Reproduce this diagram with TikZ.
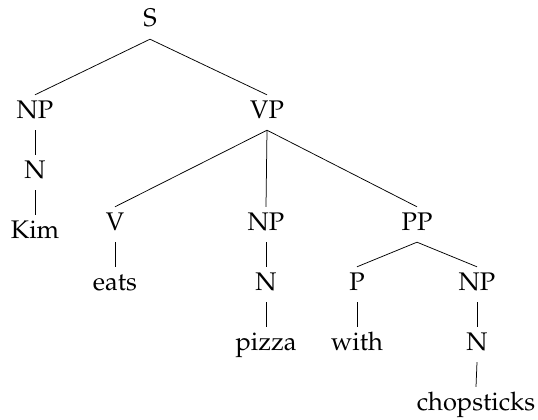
\documentclass[tikz,border=0pt]{standalone}
\usepackage[T1]{fontenc}
\usepackage{mathpazo}
\begin{document}
\begin{tikzpicture}[x=1pt,y=-1pt,
  lab/.style={anchor=base,font=\fontsize{25.5}{30}\selectfont,inner xsep=2pt,inner ysep=6pt,text height=17pt,text depth=6pt},
  br/.style={draw=black,line width=0.75pt}]
\useasboundingbox (0,0) rectangle (538,420);
\node[lab] (S) at (150,27) {S};
\node[lab] (NP1) at (35,118) {NP};
\node[lab] (N1) at (35,178) {N};
\node[lab] (Kim) at (35,238) {Kim};
\node[lab] (VP) at (267,118) {VP};
\node[lab] (V) at (115,230) {V};
\node[lab] (eats) at (115,290) {eats};
\node[lab] (NP2) at (266,230) {NP};
\node[lab] (N2) at (266,290) {N};
\node[lab] (pizza) at (266,350) {pizza};
\node[lab] (PP) at (417,230) {PP};
\node[lab] (P) at (357,290) {P};
\node[lab] (with) at (357,350) {with};
\node[lab] (NP3) at (477,290) {NP};
\node[lab] (N3) at (477,350) {N};
\node[lab] (chop) at (476,410) {chopsticks};
\draw[br] (S.south) -- (NP1.north);
\draw[br] (S.south) -- (VP.north);
\draw[br] (NP1.south) -- (N1.north);
\draw[br] (N1.south) -- (Kim.north);
\draw[br] (VP.south) -- (V.north);
\draw[br] (VP.south) -- (NP2.north);
\draw[br] (VP.south) -- (PP.north);
\draw[br] (V.south) -- (eats.north);
\draw[br] (NP2.south) -- (N2.north);
\draw[br] (N2.south) -- (pizza.north);
\draw[br] (PP.south) -- (P.north);
\draw[br] (PP.south) -- (NP3.north);
\draw[br] (P.south) -- (with.north);
\draw[br] (NP3.south) -- (N3.north);
\draw[br] (N3.south) -- (chop.north);
\end{tikzpicture}
\end{document}
